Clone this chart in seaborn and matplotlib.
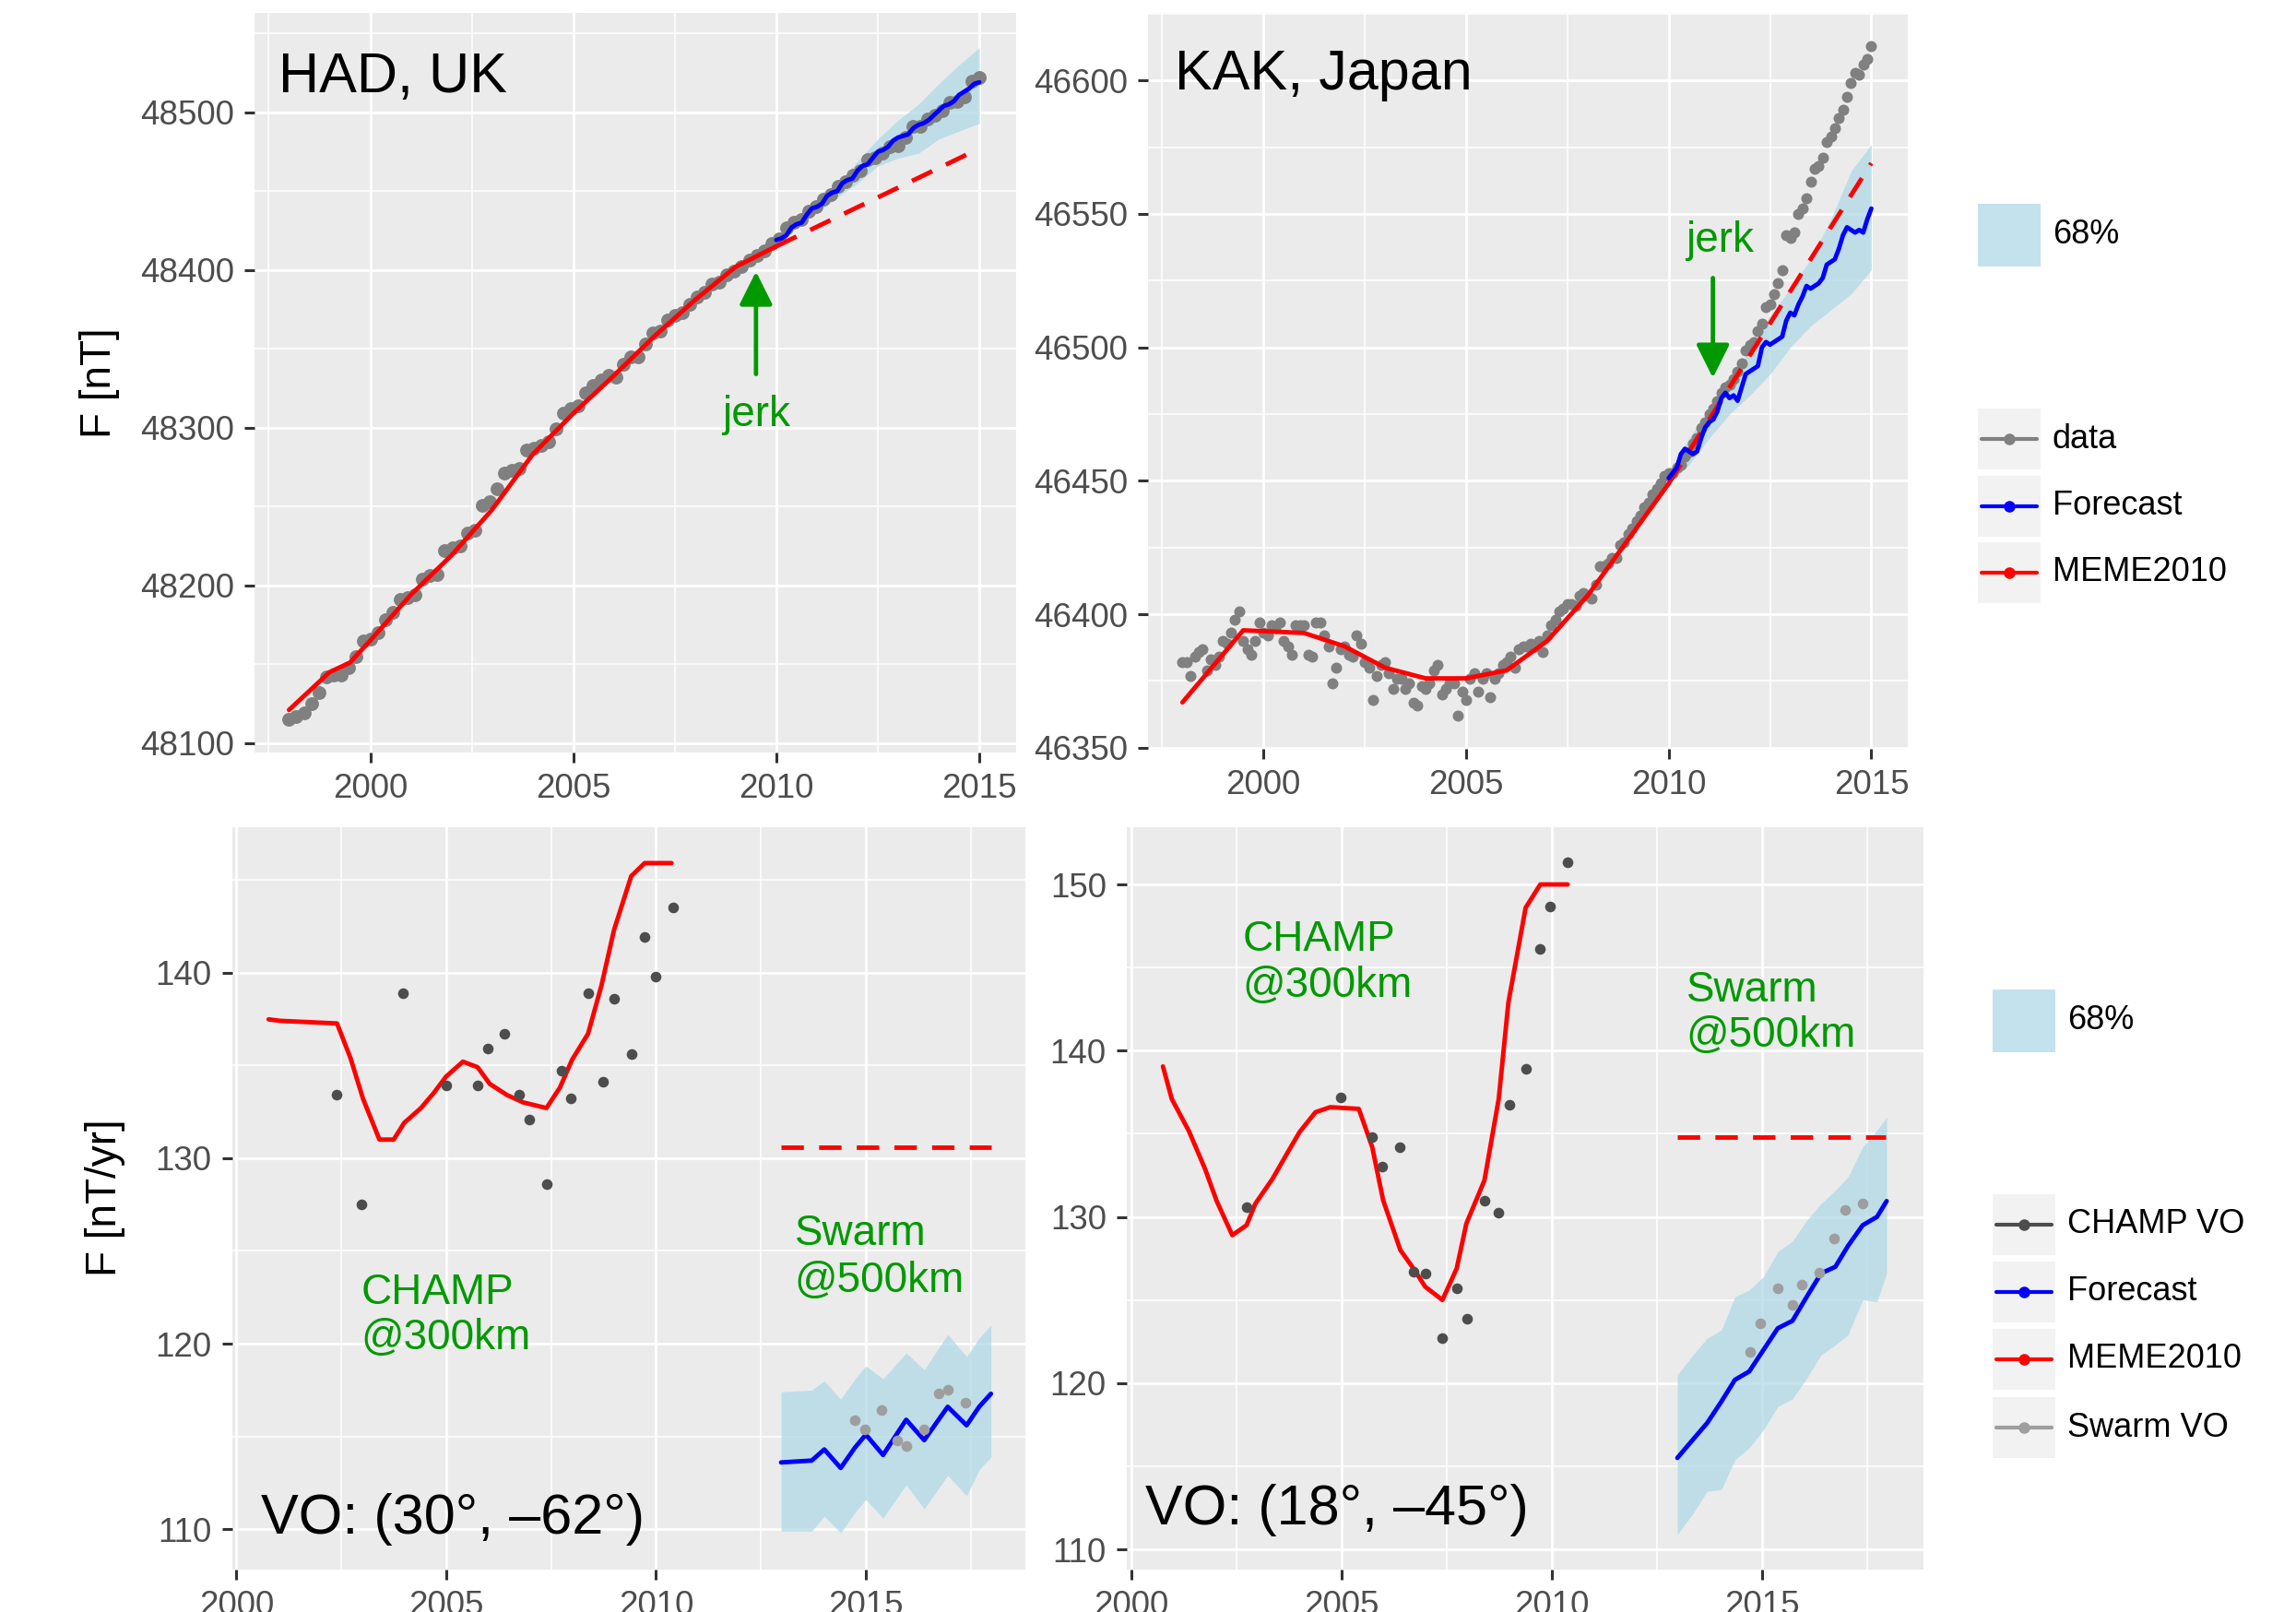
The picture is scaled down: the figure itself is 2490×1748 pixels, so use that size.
import numpy as np
import matplotlib
matplotlib.use("Agg")
import matplotlib.pyplot as plt
from matplotlib.ticker import MultipleLocator
from matplotlib.patches import Rectangle
from matplotlib.lines import Line2D
import seaborn as sns

# ---------------- data ----------------
# HAD, UK
had_data = [48115, 48117, 48119, 48125, 48132, 48142, 48143, 48143, 48148, 48155, 48165, 48166,
            48170, 48178, 48183, 48191, 48192, 48194, 48204, 48206, 48207, 48222, 48224, 48225,
            48233, 48235, 48251, 48253, 48261, 48271, 48273, 48274, 48286, 48287, 48289, 48291,
            48299, 48309, 48312, 48314, 48322, 48327, 48330, 48333, 48332, 48340, 48345, 48345,
            48353, 48360, 48361, 48368, 48371, 48373, 48378, 48383, 48386, 48391, 48392, 48397,
            48399, 48402, 48406, 48409, 48412, 48417, 48420, 48427, 48430, 48432, 48437, 48440,
            48445, 48448, 48453, 48456, 48460, 48463, 48470, 48471, 48474, 48478, 48479, 48484,
            48491, 48491, 48496, 48498, 48501, 48506, 48507, 48510, 48520, 48522]
had_data_years = np.linspace(1998.0, 2015.0, len(had_data))

had_meme_years = [1998.0, 1999.0, 1999.5, 2000.0, 2001.0, 2002.0, 2003.0, 2004.0, 2005.0,
                  2006.0, 2007.0, 2008.0, 2009.0, 2010.0]
had_meme = [48121, 48145, 48151, 48165, 48194, 48219, 48248, 48283, 48309, 48333, 48358,
            48381, 48402, 48415]
had_meme_ext_years = [2010.0, 2015.0]
had_meme_ext = [48415, 48477]

had_fc_years = np.arange(2010.0, 2015.001, 0.125)
had_fc = [48419, 48420, 48422, 48427, 48429, 48430, 48435, 48439, 48440, 48442, 48447, 48449,
          48450, 48455, 48457, 48458, 48463, 48466, 48467, 48471, 48475, 48476, 48478, 48482,
          48484, 48485, 48486, 48490, 48492, 48493, 48495, 48498, 48501, 48504, 48505, 48507,
          48511, 48513, 48515, 48518, 48519]
had_band_years = [2010.0, 2010.5, 2011.0, 2011.5, 2012.0, 2012.5, 2013.0, 2013.5, 2014.0, 2014.5, 2015.0]
had_band_hi = [48420, 48432, 48443, 48454, 48469, 48483, 48495, 48505, 48518, 48530, 48541]
had_band_lo = [48418, 48427, 48436, 48446, 48455, 48466, 48471, 48474, 48483, 48488, 48493]

# KAK, Japan
kak_data = [46382, 46382, 46377, 46384, 46386, 46387, 46379, 46383, 46381, 46384,
            46390, 46389, 46393, 46398, 46401, 46390, 46387, 46385, 46390, 46397,
            46393, 46392, 46396, 46395, 46397, 46390, 46388, 46385, 46396, 46396,
            46396, 46385, 46384, 46397, 46397, 46392, 46388, 46374, 46380, 46387,
            46388, 46385, 46384, 46392, 46389, 46382, 46380, 46368, 46377, 46381,
            46382, 46378, 46372, 46376, 46376, 46372, 46374, 46367, 46366, 46373,
            46372, 46374, 46379, 46381, 46370, 46372, 46374, 46374, 46362, 46371,
            46368, 46376, 46378, 46371, 46376, 46378, 46369, 46376, 46378, 46381,
            46382, 46384, 46380, 46387, 46388, 46388, 46389, 46388, 46390, 46386,
            46392, 46396, 46398, 46401, 46402, 46404, 46404, 46403, 46407, 46408,
            46407, 46406, 46411, 46418, 46418, 46419, 46421, 46421, 46426, 46427,
            46430, 46432, 46435, 46437, 46440, 46442, 46445, 46447, 46449, 46452,
            46453, 46453, 46455, 46456, 46459, 46461, 46464, 46466, 46470, 46472,
            46475, 46477, 46480, 46483, 46485, 46486, 46488, 46491, 46494, 46499,
            46501, 46502, 46506, 46509, 46515, 46516, 46520, 46524, 46529, 46542,
            46541, 46543, 46550, 46552, 46556, 46562, 46567, 46568, 46571, 46577,
            46579, 46582, 46586, 46589, 46594, 46599, 46603, 46602, 46606, 46608,
            46613]
kak_data_years = np.linspace(1998.0, 2015.0, len(kak_data))

kak_meme_years = [1998.0, 1999.5, 2001.0, 2002.0, 2003.0, 2004.0, 2005.0, 2006.0, 2007.0,
                  2008.0, 2009.0, 2010.0]
kak_meme = [46367, 46394, 46393, 46388, 46380, 46376, 46376, 46379, 46390, 46407, 46428, 46449]
kak_meme_ext_years = [2010.0, 2015.0]
kak_meme_ext = [46449, 46569]

kak_fc_years = np.linspace(2010.0, 2015.0, 51)
kak_fc = [46451, 46453, 46455, 46460, 46462, 46461, 46460, 46461, 46466, 46470,
          46472, 46473, 46476, 46481, 46483, 46481, 46482, 46480, 46485, 46490,
          46491, 46492, 46493, 46500, 46502, 46501, 46502, 46503, 46504, 46510,
          46513, 46512, 46516, 46519, 46523, 46522, 46523, 46524, 46526, 46531,
          46532, 46533, 46537, 46542, 46545, 46544, 46543, 46544, 46543, 46548,
          46552]
kak_band_years = [2010.0, 2010.5, 2011.0, 2011.5, 2012.0, 2012.5, 2013.0, 2013.5, 2014.0, 2014.5, 2015.0]
kak_band_hi = [46453, 46466, 46477, 46487, 46499, 46512, 46522, 46533, 46548, 46566, 46576]
kak_band_lo = [46449, 46456, 46466, 46475, 46482, 46490, 46500, 46508, 46514, 46520, 46529]

# VO (30, -62)
vo1_meme_years = [2000.77, 2001.05, 2002.40, 2002.72, 2003.02, 2003.41, 2003.75, 2004.0, 2004.4,
                  2004.7, 2005.0, 2005.4, 2005.75, 2006.04, 2006.45, 2006.84, 2007.39, 2007.71,
                  2008.0, 2008.38, 2008.7, 2009.0, 2009.41, 2009.73, 2010.37]
vo1_meme = [137.48, 137.4, 137.26, 135.4, 133.2, 131.0, 131.0, 131.9, 132.7, 133.5, 134.4, 135.2,
            134.9, 134.0, 133.4, 133.0, 132.7, 133.8, 135.3, 136.7, 139.3, 142.3, 145.2, 145.9, 145.9]
vo1_champ_years = [2002.40, 2002.98, 2003.98, 2005.01, 2005.75, 2006.0, 2006.39, 2006.74, 2006.99,
                   2007.39, 2007.74, 2007.98, 2008.39, 2008.73, 2009.0, 2009.41, 2009.73, 2009.99, 2010.40]
vo1_champ = [133.4, 127.5, 138.9, 133.9, 133.9, 135.9, 136.7, 133.4, 132.1, 128.6, 134.7, 133.2,
             138.9, 134.1, 138.6, 135.6, 141.9, 139.8, 143.5]
vo1_meme_ext_years = [2012.98, 2017.98]
vo1_meme_ext = [130.6, 130.6]
vo1_fc_years = [2012.98, 2013.71, 2014.01, 2014.40, 2014.74, 2015.0, 2015.41, 2015.96, 2016.39,
                2016.95, 2017.40, 2017.70, 2017.98]
vo1_fc = [113.6, 113.7, 114.3, 113.3, 114.4, 115.1, 114.0, 115.9, 114.8, 116.6, 115.6, 116.6, 117.3]
vo1_band_hi = [117.4, 117.5, 118.0, 117.0, 118.1, 118.8, 118.1, 119.5, 118.6, 120.5, 119.3, 120.3, 121.0]
vo1_band_lo = [109.9, 109.9, 110.7, 109.8, 110.9, 111.6, 110.6, 112.4, 111.1, 112.9, 111.8, 113.2, 113.9]
vo1_swarm_years = [2014.74, 2014.97, 2015.38, 2015.75, 2015.96, 2016.39, 2016.73, 2016.96, 2017.37]
vo1_swarm = [115.9, 115.4, 116.4, 114.8, 114.5, 115.4, 117.3, 117.5, 116.8]

# VO (18, -45)
vo2_meme_years = [2000.75, 2000.96, 2001.37, 2001.75, 2002.03, 2002.40, 2002.74, 2002.95, 2003.36,
                  2003.70, 2004.0, 2004.38, 2004.73, 2005.41, 2005.73, 2005.99, 2006.40, 2006.71,
                  2006.99, 2007.40, 2007.74, 2007.97, 2008.40, 2008.74, 2008.97, 2009.38, 2009.73, 2010.38]
vo2_meme = [139.05, 137.1, 135.15, 132.9, 130.95, 128.9, 129.5, 130.8, 132.3, 133.8, 135.1, 136.3,
            136.6, 136.5, 134.2, 131.0, 128.0, 126.9, 125.8, 125.0, 126.9, 129.6, 132.2, 137.1,
            142.9, 148.6, 150.0, 150.0]
vo2_champ_years = [2002.74, 2004.97, 2005.73, 2005.97, 2006.38, 2006.71, 2006.99, 2007.40, 2007.74,
                   2007.99, 2008.40, 2008.73, 2008.99, 2009.38, 2009.73, 2009.97, 2010.38]
vo2_champ = [130.6, 137.2, 134.8, 133.0, 134.2, 126.7, 126.6, 122.7, 125.7, 123.9, 131.0, 130.25,
             136.75, 138.9, 146.1, 148.65, 151.35]
vo2_meme_ext_years = [2012.99, 2017.95]
vo2_meme_ext = [134.8, 134.8]
vo2_fc_years = [2012.99, 2013.36, 2013.70, 2014.04, 2014.36, 2014.70, 2015.04, 2015.38, 2015.73,
                2016.07, 2016.41, 2016.75, 2017.05, 2017.40, 2017.74, 2017.97]
vo2_fc = [115.5, 116.6, 117.6, 118.9, 120.2, 120.7, 122.0, 123.3, 123.75, 125.2, 126.6, 127.0,
          128.25, 129.5, 130.0, 130.95]
vo2_band_hi = [120.5, 121.7, 122.7, 123.2, 125.2, 125.6, 126.4, 127.9, 128.55, 129.8, 130.8, 131.6,
               132.4, 134.2, 135.2, 136.0]
vo2_band_lo = [110.9, 112.15, 113.5, 113.6, 115.4, 116.1, 117.2, 118.6, 119.05, 120.3, 121.7, 122.3,
               122.9, 125.0, 124.9, 126.6]
vo2_swarm_years = [2014.73, 2014.97, 2015.38, 2015.73, 2015.96, 2016.37, 2016.71, 2016.99, 2017.40]
vo2_swarm = [121.9, 123.6, 125.7, 124.7, 125.9, 126.65, 128.7, 130.4, 130.8]

legend1_labels = ["data", "Forecast", "MEME2010"]
legend2_labels = ["CHAMP VO", "Forecast", "MEME2010", "Swarm VO"]

# ---------------- style ----------------
sns.set_theme(style="darkgrid", rc={"axes.facecolor": "#EBEBEB", "grid.color": "white",
                                    "figure.facecolor": "white"})
plt.rcParams["font.family"] = ["Liberation Sans", "DejaVu Sans"]

W, H = 2490, 1748
fig = plt.figure(figsize=(W / 100, H / 100), dpi=100)


def px_axes(l, t, r, b):
    return fig.add_axes([l / W, 1 - b / H, (r - l) / W, (b - t) / H])


ax1 = px_axes(276, 14, 1101.7, 816)
ax2 = px_axes(1245, 14, 2069, 812)
ax3 = px_axes(251.7, 896.7, 1112, 1701.7)
ax4 = px_axes(1222, 896.7, 2085.7, 1701.7)

GREEN = "#009900"
RIBBON = "lightblue"
RALPHA = 0.72
DATA_GRAY = "#808080"
CHAMP_GRAY = "#4D4D4D"
SWARM_GRAY = "#9E9E9E"
LW = 3.5
DASH = (0, (5.0, 3.4))
TXT = 44
ANN = 33


def style(ax, xlim, ylim, ymaj, ymin):
    ax.set_xlim(*xlim)
    ax.set_ylim(*ylim)
    ax.xaxis.set_major_locator(MultipleLocator(5))
    ax.xaxis.set_minor_locator(MultipleLocator(2.5))
    ax.yaxis.set_major_locator(MultipleLocator(ymaj))
    ax.yaxis.set_minor_locator(MultipleLocator(ymin))
    ax.grid(which="major", color="white", lw=1.95)
    ax.grid(which="minor", color="white", lw=1.1)
    ax.set_axisbelow(True)
    for s in ax.spines.values():
        s.set_visible(False)
    ax.tick_params(which="major", bottom=True, left=True, length=8, width=2.2,
                   color="#333333", labelcolor="#4D4D4D", labelsize=26.5, pad=8)
    ax.tick_params(which="minor", length=0)
    ax.set_xlabel("")
    ax.set_ylabel("")


# ---- Panel 1: HAD ----
ax1.fill_between(had_band_years, had_band_lo, had_band_hi, color=RIBBON, alpha=RALPHA, lw=0, zorder=2)
sns.scatterplot(x=had_data_years, y=had_data, ax=ax1, color=DATA_GRAY, s=115, linewidth=0, zorder=3)
sns.lineplot(x=had_meme_years, y=had_meme, ax=ax1, color="red", lw=LW, zorder=4)
sns.lineplot(x=had_meme_ext_years, y=had_meme_ext, ax=ax1, color="red", lw=LW, linestyle=DASH, zorder=4)
sns.lineplot(x=had_fc_years, y=had_fc, ax=ax1, color="blue", lw=LW, zorder=5)
style(ax1, (1997.15, 2015.9), (48094, 48563), 100, 50)
ax1.text(1997.73, 48512.7, "HAD, UK", fontsize=TXT, color="black", ha="left", va="baseline")
ax1.annotate("", xy=(2009.5, 48399), xytext=(2009.5, 48334),
             arrowprops=dict(arrowstyle="-|>,head_length=1.1,head_width=0.55", mutation_scale=20,
                             color=GREEN, lw=3.4, shrinkA=0, shrinkB=0), zorder=6)
ax1.text(2009.51, 48301, "jerk", fontsize=ANN, color=GREEN, ha="center", va="baseline")

# ---- Panel 2: KAK ----
ax2.fill_between(kak_band_years, kak_band_lo, kak_band_hi, color=RIBBON, alpha=RALPHA, lw=0, zorder=2)
sns.scatterplot(x=kak_data_years, y=kak_data, ax=ax2, color=DATA_GRAY, s=75, linewidth=0, zorder=3)
sns.lineplot(x=kak_meme_years, y=kak_meme, ax=ax2, color="red", lw=LW, zorder=4)
sns.lineplot(x=kak_meme_ext_years, y=kak_meme_ext, ax=ax2, color="red", lw=LW, linestyle=DASH, zorder=4)
sns.lineplot(x=kak_fc_years, y=kak_fc, ax=ax2, color="blue", lw=LW, zorder=5)
style(ax2, (1997.15, 2015.9), (46349.6, 46625.3), 50, 25)
ax2.text(1997.81, 46596.7, "KAK, Japan", fontsize=TXT, color="black", ha="left", va="baseline")
ax2.annotate("", xy=(2011.09, 46488.6), xytext=(2011.09, 46526),
             arrowprops=dict(arrowstyle="-|>,head_length=1.1,head_width=0.55", mutation_scale=20,
                             color=GREEN, lw=3.4, shrinkA=0, shrinkB=0), zorder=6)
ax2.text(2011.27, 46535.8, "jerk", fontsize=ANN, color=GREEN, ha="center", va="baseline")

# ---- Panel 3: VO (30, -62) ----
ax3.fill_between(vo1_fc_years, vo1_band_lo, vo1_band_hi, color=RIBBON, alpha=RALPHA, lw=0, zorder=2)
sns.lineplot(x=vo1_meme_years, y=vo1_meme, ax=ax3, color="red", lw=LW, zorder=4)
sns.lineplot(x=vo1_meme_ext_years, y=vo1_meme_ext, ax=ax3, color="red", lw=LW, linestyle=DASH, zorder=4)
sns.lineplot(x=vo1_fc_years, y=vo1_fc, ax=ax3, color="blue", lw=LW, zorder=5)
sns.scatterplot(x=vo1_champ_years, y=vo1_champ, ax=ax3, color=CHAMP_GRAY, s=70, linewidth=0, zorder=6)
sns.scatterplot(x=vo1_swarm_years, y=vo1_swarm, ax=ax3, color=SWARM_GRAY, s=70, linewidth=0, zorder=6)
style(ax3, (1999.9, 2018.8), (107.84, 147.85), 10, 5)
ax3.text(2002.97, 122.16, "CHAMP", fontsize=ANN, color=GREEN, ha="left", va="baseline")
ax3.text(2002.97, 119.7, "@300km", fontsize=ANN, color=GREEN, ha="left", va="baseline")
ax3.text(2013.3, 125.3, "Swarm", fontsize=ANN, color=GREEN, ha="left", va="baseline")
ax3.text(2013.3, 122.78, "@500km", fontsize=ANN, color=GREEN, ha="left", va="baseline")
ax3.text(2000.58, 109.75, "VO: (30\u00b0, \u201362\u00b0)", fontsize=TXT,
         color="black", ha="left", va="baseline")

# ---- Panel 4: VO (18, -45) ----
ax4.fill_between(vo2_fc_years, vo2_band_lo, vo2_band_hi, color=RIBBON, alpha=RALPHA, lw=0, zorder=2)
sns.lineplot(x=vo2_meme_years, y=vo2_meme, ax=ax4, color="red", lw=LW, zorder=4)
sns.lineplot(x=vo2_meme_ext_years, y=vo2_meme_ext, ax=ax4, color="red", lw=LW, linestyle=DASH, zorder=4)
sns.lineplot(x=vo2_fc_years, y=vo2_fc, ax=ax4, color="blue", lw=LW, zorder=5)
sns.scatterplot(x=vo2_champ_years, y=vo2_champ, ax=ax4, color=CHAMP_GRAY, s=70, linewidth=0, zorder=6)
sns.scatterplot(x=vo2_swarm_years, y=vo2_swarm, ax=ax4, color=SWARM_GRAY, s=70, linewidth=0, zorder=6)
style(ax4, (1999.89, 2018.84), (108.8, 153.46), 10, 5)
ax4.text(2002.64, 146.03, "CHAMP", fontsize=ANN, color=GREEN, ha="left", va="baseline")
ax4.text(2002.64, 143.22, "@300km", fontsize=ANN, color=GREEN, ha="left", va="baseline")
ax4.text(2013.2, 142.96, "Swarm", fontsize=ANN, color=GREEN, ha="left", va="baseline")
ax4.text(2013.2, 140.22, "@500km", fontsize=ANN, color=GREEN, ha="left", va="baseline")
ax4.text(2000.32, 111.5, "VO: (18\u00b0, \u201345\u00b0)", fontsize=TXT,
         color="black", ha="left", va="baseline")

# ---- y axis titles ----
fig.text(108 / W, 1 - 415 / H, "F [nT]", fontsize=33, rotation=90, ha="center", va="center", color="black")
fig.text(114 / W, 1 - 1299 / H, "F [nT/yr]", fontsize=33, rotation=90, ha="center", va="center", color="black")


# ---- legends (ggplot-like keys) ----
def fx(x):
    return x / W


def fy(y):
    return 1 - y / H


def legend(x0, box, fill_y, rows):
    fig.add_artist(Rectangle((fx(x0), fy(fill_y + box / 2)), box / W, box / H,
                             transform=fig.transFigure, facecolor=RIBBON, alpha=RALPHA, lw=0))
    fig.text(fx(x0 + box + 13), fy(fill_y), "68%", fontsize=26, ha="left", va="center", color="black")
    for label, color, cy in rows:
        fig.add_artist(Rectangle((fx(x0), fy(cy + 33)), box / W, 66 / H,
                                 transform=fig.transFigure, facecolor="#F2F2F2", lw=0))
        fig.add_artist(Line2D([fx(x0 + 4), fx(x0 + box - 4)], [fy(cy), fy(cy)],
                              transform=fig.transFigure, color=color, lw=3.0))
        fig.add_artist(Line2D([fx(x0 + box / 2)], [fy(cy)], transform=fig.transFigure,
                              color=color, marker="o", markersize=8, lw=0))
        fig.text(fx(x0 + box + 13), fy(cy), label, fontsize=26, ha="left", va="center", color="black")


legend(2145, 67.7, 255, list(zip(legend1_labels, [DATA_GRAY, "blue", "red"], [476, 548.5, 621])))
legend(2160.6, 68.2, 1107, list(zip(legend2_labels, [CHAMP_GRAY, "blue", "red", SWARM_GRAY],
                                    [1327.6, 1400.6, 1473.7, 1548])))

fig.savefig("out.png", dpi=100)
